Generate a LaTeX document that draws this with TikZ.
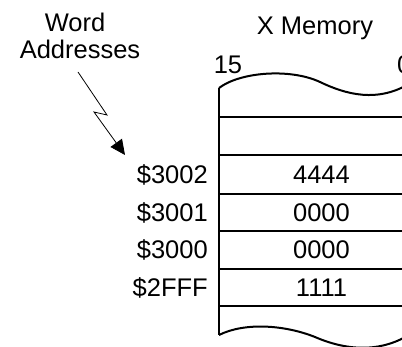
\documentclass[tikz,border=0pt]{standalone}
\usepackage{fontspec}
\setmainfont{Liberation Sans}
\usetikzlibrary{arrows.meta}
\begin{document}
\begin{tikzpicture}[x=1pt,y=-1pt,
  lbl/.style={inner sep=0pt,font=\fontsize{25.5}{30}\selectfont},
  memline/.style={line width=2pt},
  ptr/.style={line width=0.8pt,-{Triangle[length=15pt,width=14pt]}}]
\useasboundingbox (0,0) rectangle (402,347);
\clip (0,0) rectangle (402,347);
% titles
\node[lbl,anchor=base] (word) at (75,32) {Word};
\node[lbl,anchor=base] (addr) at (80,59) {Addresses};
\node[lbl,anchor=base] (xmem) at (315,35) {X Memory};
\node[lbl,anchor=base] (b15) at (228,74) {15};
\node[lbl,anchor=base west] (b0) at (397,74) {0};
% memory outline
\draw[memline] (219,88) .. controls (240,72) and (290,68) .. (320,82)
  .. controls (345,94) and (378,104) .. (412,82);
\draw[memline] (219,335) .. controls (245,322) and (285,325) .. (315,337)
  .. controls (345,350) and (380,354) .. (412,333);
\draw[memline] (219,88) -- (219,335);
\foreach \y in {117,155,194,231,269,306} {
  \draw[memline] (219,\y) -- (412,\y);
}
% rows
\foreach \c/\a/\v/\n in {174.5/\$3002/4444/a, 212.5/\$3001/0000/b, 250/\$3000/0000/c, 287.5/\$2FFF/1111/d} {
  \node[lbl,anchor=base east] (addr\n) at (208,\c+9) {\a};
  \node[lbl,anchor=base] (val\n) at (321.5,\c+9) {\v};
}
% lightning arrow
\coordinate (zs) at (78,72);
\coordinate (z1) at (107,115);
\coordinate (z2) at (94,112);
\coordinate (ze) at (125,155);
\draw[ptr] (zs) -- (z1) -- (z2) -- (ze);
\end{tikzpicture}
\end{document}
